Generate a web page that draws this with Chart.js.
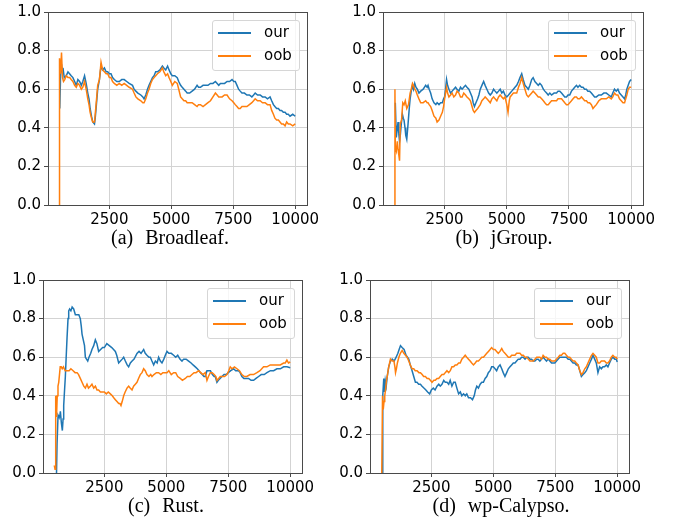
<!DOCTYPE html>
<html><head><meta charset="utf-8">
<script src="https://cdn.jsdelivr.net/npm/chart.js@4.4.1/dist/chart.umd.min.js"></script>
<style>
html,body{margin:0;padding:0;background:#fff;}
#wrap{position:relative;width:683px;height:519px;overflow:hidden;}
#wrap canvas{position:absolute;}
.legend{position:absolute;width:86px;height:49px;border:1px solid #d6d6d6;border-radius:3px;background:rgba(255,255,255,0.8);font-family:'DejaVu Sans';font-size:15px;color:#000;}
.sw{position:absolute;left:5px;width:33px;height:2px;}
.lbl{position:absolute;left:51px;white-space:nowrap;line-height:18px;height:18px;}
.cap{position:absolute;width:300px;text-align:center;font-family:'Liberation Serif';font-size:20px;line-height:20px;word-spacing:7px;color:#000;white-space:nowrap;}
</style></head>
<body><div id="wrap"></div>
<script>
const seriesNames = ['our','oob'];
const BLUE = '#1f77b4', ORANGE = '#ff7f0e';
const xTicks = [2500,5000,7500,10000];
const yTicks = [0,0.2,0.4,0.6,0.8,1.0];
const X_MIN = 25, X_MAX = 10475;
const captions = ['(a) Broadleaf.','(b) jGroup.','(c) Rust.','(d) wp-Calypso.'];

const broadleafOur = [[500,0.50],[530,0.66],[567,0.73],[600,0.69],[630,0.71],[680,0.66],[760,0.67],[830,0.69],[895,0.68],[960,0.67],[1030,0.66],[1100,0.64],[1165,0.62],[1230,0.65],[1300,0.64],[1370,0.62],[1430,0.64],[1500,0.67],[1565,0.63],[1630,0.58],[1680,0.55],[1725,0.50],[1780,0.46],[1830,0.43],[1900,0.42],[1930,0.45],[1965,0.50],[2030,0.60],[2100,0.65],[2165,0.72],[2230,0.70],[2300,0.71],[2370,0.69],[2433,0.69],[2500,0.68],[2567,0.68],[2630,0.66],[2700,0.65],[2800,0.64],[2900,0.64],[3000,0.65],[3100,0.65],[3200,0.64],[3300,0.63],[3435,0.62],[3500,0.60],[3570,0.59],[3650,0.58],[3770,0.57],[3850,0.56],[3900,0.55],[3970,0.57],[4040,0.60],[4100,0.62],[4170,0.64],[4240,0.66],[4305,0.67],[4370,0.69],[4440,0.69],[4540,0.70],[4640,0.72],[4700,0.71],[4775,0.70],[4850,0.72],[4910,0.70],[4980,0.68],[5040,0.67],[5140,0.67],[5240,0.66],[5300,0.64],[5375,0.62],[5440,0.61],[5510,0.60],[5580,0.59],[5640,0.58],[5740,0.58],[5840,0.59],[5940,0.60],[6040,0.62],[6100,0.61],[6175,0.61],[6280,0.62],[6380,0.62],[6480,0.62],[6580,0.63],[6680,0.63],[6780,0.64],[6850,0.63],[6915,0.62],[6980,0.63],[7050,0.63],[7150,0.63],[7250,0.64],[7350,0.64],[7450,0.65],[7520,0.64],[7580,0.64],[7650,0.62],[7715,0.60],[7780,0.59],[7850,0.58],[7950,0.58],[8050,0.57],[8150,0.57],[8250,0.56],[8320,0.57],[8385,0.58],[8480,0.57],[8585,0.57],[8680,0.56],[8785,0.56],[8880,0.55],[8985,0.56],[9050,0.54],[9120,0.52],[9180,0.51],[9250,0.50],[9320,0.50],[9385,0.49],[9450,0.49],[9520,0.48],[9590,0.48],[9655,0.47],[9720,0.47],[9790,0.46],[9900,0.47],[10000,0.46]];
const broadleafOob = [[480,0.00],[490,0.76],[530,0.68],[570,0.79],[610,0.66],[650,0.64],[700,0.65],[760,0.67],[830,0.66],[900,0.66],[960,0.65],[1030,0.64],[1100,0.62],[1165,0.61],[1230,0.63],[1300,0.62],[1370,0.60],[1430,0.61],[1500,0.64],[1565,0.60],[1630,0.55],[1680,0.52],[1725,0.48],[1780,0.45],[1830,0.43],[1900,0.43],[1930,0.47],[1965,0.52],[2030,0.62],[2100,0.65],[2165,0.74],[2230,0.70],[2300,0.69],[2370,0.68],[2433,0.68],[2500,0.66],[2567,0.66],[2630,0.64],[2700,0.63],[2800,0.62],[2900,0.63],[3000,0.62],[3100,0.63],[3200,0.62],[3300,0.61],[3435,0.60],[3500,0.58],[3570,0.56],[3650,0.55],[3770,0.54],[3850,0.53],[3900,0.53],[3970,0.55],[4040,0.58],[4100,0.60],[4170,0.63],[4240,0.65],[4305,0.66],[4370,0.67],[4440,0.68],[4540,0.69],[4640,0.71],[4700,0.69],[4775,0.67],[4850,0.68],[4910,0.66],[4980,0.64],[5040,0.62],[5140,0.64],[5240,0.63],[5300,0.60],[5375,0.56],[5440,0.55],[5510,0.54],[5580,0.54],[5640,0.53],[5740,0.53],[5840,0.53],[5940,0.52],[6040,0.51],[6100,0.52],[6175,0.52],[6280,0.51],[6380,0.52],[6480,0.53],[6580,0.54],[6680,0.56],[6780,0.58],[6850,0.57],[6915,0.56],[6980,0.56],[7050,0.56],[7150,0.57],[7250,0.57],[7350,0.55],[7450,0.54],[7520,0.53],[7580,0.52],[7650,0.51],[7715,0.50],[7780,0.50],[7850,0.51],[7950,0.51],[8050,0.51],[8150,0.52],[8250,0.53],[8320,0.54],[8385,0.55],[8480,0.54],[8585,0.54],[8680,0.53],[8785,0.53],[8880,0.52],[8985,0.52],[9050,0.49],[9120,0.47],[9180,0.45],[9250,0.44],[9320,0.44],[9385,0.43],[9450,0.42],[9520,0.42],[9590,0.41],[9655,0.43],[9720,0.42],[9790,0.42],[9900,0.41],[10000,0.42]];

const jgroupOur = [[520,0.53],[560,0.35],[600,0.40],[630,0.43],[660,0.37],[690,0.33],[720,0.36],[760,0.42],[805,0.47],[840,0.45],[870,0.44],[910,0.40],[940,0.36],[980,0.34],[1020,0.40],[1050,0.45],[1080,0.50],[1115,0.55],[1160,0.59],[1210,0.62],[1250,0.60],[1300,0.63],[1350,0.61],[1405,0.60],[1470,0.58],[1540,0.59],[1640,0.60],[1740,0.62],[1800,0.61],[1835,0.62],[1880,0.60],[1940,0.58],[2000,0.55],[2075,0.53],[2150,0.52],[2200,0.53],[2275,0.52],[2340,0.53],[2410,0.53],[2460,0.55],[2500,0.56],[2540,0.60],[2580,0.65],[2620,0.62],[2675,0.60],[2740,0.58],[2805,0.59],[2870,0.60],[2940,0.61],[3000,0.60],[3075,0.59],[3140,0.61],[3205,0.60],[3270,0.61],[3340,0.62],[3400,0.61],[3475,0.60],[3540,0.58],[3605,0.56],[3650,0.53],[3700,0.51],[3760,0.53],[3830,0.55],[3880,0.57],[3935,0.60],[4000,0.62],[4070,0.64],[4130,0.62],[4200,0.60],[4270,0.58],[4335,0.57],[4400,0.58],[4470,0.60],[4530,0.59],[4600,0.58],[4670,0.59],[4735,0.60],[4800,0.58],[4865,0.59],[4930,0.57],[5000,0.56],[5070,0.57],[5135,0.58],[5200,0.59],[5265,0.60],[5330,0.61],[5400,0.62],[5470,0.64],[5530,0.66],[5600,0.68],[5660,0.65],[5730,0.62],[5800,0.61],[5865,0.60],[5930,0.62],[6000,0.65],[6060,0.66],[6130,0.64],[6200,0.63],[6265,0.62],[6330,0.63],[6400,0.62],[6470,0.60],[6530,0.59],[6600,0.58],[6665,0.57],[6730,0.58],[6800,0.57],[6900,0.58],[7000,0.58],[7060,0.59],[7130,0.59],[7200,0.58],[7265,0.57],[7330,0.56],[7400,0.56],[7460,0.57],[7530,0.57],[7600,0.59],[7665,0.60],[7730,0.61],[7800,0.62],[7860,0.61],[7930,0.62],[8000,0.61],[8065,0.61],[8130,0.60],[8200,0.60],[8260,0.59],[8330,0.59],[8400,0.58],[8465,0.57],[8530,0.56],[8600,0.56],[8700,0.57],[8800,0.57],[8900,0.58],[9000,0.58],[9100,0.57],[9200,0.56],[9260,0.58],[9330,0.60],[9400,0.59],[9465,0.60],[9530,0.58],[9600,0.57],[9670,0.56],[9735,0.55],[9780,0.57],[9825,0.60],[9880,0.62],[9935,0.64],[10000,0.65]];
const jgroupOob = [[500,0.00],[505,0.60],[520,0.30],[560,0.28],[600,0.33],[630,0.29],[660,0.26],[690,0.23],[720,0.42],[770,0.44],[820,0.53],[870,0.52],[920,0.54],[980,0.50],[1050,0.52],[1115,0.58],[1160,0.60],[1210,0.63],[1250,0.62],[1300,0.60],[1350,0.59],[1405,0.57],[1470,0.55],[1540,0.53],[1640,0.53],[1740,0.54],[1800,0.53],[1835,0.53],[1880,0.52],[1940,0.51],[2000,0.49],[2075,0.46],[2150,0.45],[2200,0.43],[2275,0.44],[2340,0.46],[2410,0.48],[2460,0.51],[2500,0.55],[2540,0.58],[2580,0.61],[2620,0.58],[2675,0.56],[2740,0.57],[2805,0.58],[2870,0.56],[2940,0.57],[3000,0.59],[3075,0.58],[3140,0.56],[3205,0.56],[3270,0.58],[3340,0.57],[3400,0.56],[3475,0.55],[3540,0.54],[3605,0.51],[3650,0.49],[3700,0.48],[3760,0.49],[3830,0.50],[3880,0.51],[3935,0.52],[4000,0.54],[4070,0.55],[4130,0.56],[4200,0.55],[4270,0.54],[4335,0.53],[4400,0.55],[4470,0.56],[4530,0.55],[4600,0.54],[4670,0.56],[4735,0.57],[4800,0.56],[4865,0.55],[4930,0.56],[5000,0.52],[5050,0.48],[5100,0.54],[5135,0.56],[5200,0.57],[5265,0.58],[5330,0.58],[5400,0.58],[5470,0.61],[5530,0.63],[5600,0.66],[5660,0.63],[5730,0.60],[5800,0.57],[5865,0.56],[5930,0.57],[6000,0.58],[6060,0.59],[6130,0.58],[6200,0.57],[6265,0.56],[6330,0.56],[6400,0.55],[6470,0.54],[6530,0.53],[6600,0.52],[6665,0.52],[6730,0.53],[6800,0.54],[6900,0.54],[7000,0.54],[7060,0.55],[7130,0.55],[7200,0.55],[7265,0.54],[7330,0.53],[7400,0.52],[7460,0.52],[7530,0.53],[7600,0.54],[7665,0.55],[7730,0.56],[7800,0.56],[7860,0.55],[7930,0.55],[8000,0.56],[8065,0.55],[8130,0.54],[8200,0.54],[8260,0.53],[8330,0.53],[8400,0.52],[8465,0.50],[8530,0.51],[8600,0.52],[8700,0.54],[8800,0.55],[8900,0.55],[9000,0.55],[9100,0.56],[9200,0.55],[9260,0.56],[9330,0.58],[9400,0.57],[9465,0.57],[9530,0.55],[9600,0.54],[9670,0.53],[9735,0.53],[9780,0.55],[9825,0.57],[9880,0.60],[9935,0.61],[10000,0.61]];

const rustOur = [[570,0.00],[592,0.15],[632,0.30],[670,0.29],[700,0.29],[726,0.32],[766,0.26],[806,0.22],[835,0.28],[860,0.35],[895,0.43],[927,0.50],[960,0.60],[995,0.70],[1035,0.80],[1062,0.84],[1100,0.85],[1150,0.84],[1200,0.86],[1263,0.85],[1330,0.82],[1400,0.82],[1470,0.82],[1530,0.80],[1570,0.76],[1600,0.72],[1650,0.69],[1700,0.66],[1734,0.60],[1780,0.59],[1830,0.58],[1880,0.60],[1950,0.62],[2000,0.64],[2070,0.66],[2137,0.69],[2200,0.67],[2270,0.63],[2350,0.64],[2430,0.65],[2500,0.65],[2600,0.67],[2700,0.66],[2800,0.65],[2944,0.63],[3000,0.61],[3078,0.57],[3150,0.58],[3220,0.59],[3280,0.60],[3347,0.58],[3420,0.56],[3480,0.55],[3550,0.57],[3620,0.58],[3700,0.59],[3817,0.62],[3900,0.63],[3980,0.62],[4086,0.64],[4150,0.62],[4220,0.61],[4300,0.60],[4355,0.60],[4420,0.58],[4490,0.56],[4560,0.58],[4630,0.57],[4690,0.60],[4760,0.58],[4825,0.57],[4900,0.59],[4960,0.61],[5027,0.63],[5100,0.62],[5200,0.62],[5296,0.61],[5380,0.60],[5460,0.61],[5550,0.59],[5632,0.58],[5700,0.59],[5800,0.59],[5900,0.58],[6000,0.57],[6080,0.56],[6170,0.55],[6250,0.54],[6320,0.53],[6370,0.52],[6450,0.51],[6520,0.50],[6572,0.50],[6640,0.53],[6706,0.53],[6780,0.53],[6860,0.51],[6930,0.50],[6975,0.50],[7043,0.47],[7100,0.48],[7170,0.49],[7245,0.50],[7330,0.51],[7420,0.51],[7500,0.52],[7600,0.53],[7715,0.54],[7800,0.53],[7916,0.53],[7980,0.52],[8050,0.50],[8130,0.49],[8220,0.49],[8320,0.49],[8420,0.48],[8522,0.48],[8620,0.49],[8724,0.50],[8830,0.51],[8950,0.51],[9060,0.52],[9200,0.53],[9330,0.53],[9464,0.54],[9600,0.54],[9733,0.55],[9870,0.55],[10000,0.545]];
const rustOob = [[480,0.04],[510,0.02],[530,0.05],[545,0.40],[570,0.29],[600,0.40],[630,0.45],[660,0.47],[690,0.51],[720,0.55],[760,0.55],[800,0.54],[850,0.55],[920,0.53],[995,0.53],[1080,0.53],[1150,0.54],[1240,0.53],[1320,0.52],[1400,0.52],[1460,0.51],[1530,0.49],[1600,0.47],[1670,0.45],[1734,0.44],[1800,0.46],[1860,0.44],[1935,0.45],[2000,0.46],[2070,0.44],[2140,0.45],[2204,0.43],[2270,0.43],[2339,0.42],[2420,0.42],[2500,0.42],[2580,0.41],[2660,0.42],[2742,0.41],[2820,0.40],[2880,0.39],[2944,0.38],[3010,0.37],[3078,0.36],[3130,0.36],[3172,0.35],[3220,0.37],[3280,0.40],[3340,0.42],[3414,0.44],[3480,0.45],[3540,0.44],[3616,0.43],[3680,0.45],[3750,0.46],[3817,0.47],[3880,0.49],[3950,0.51],[4020,0.52],[4086,0.54],[4150,0.53],[4220,0.51],[4300,0.50],[4370,0.51],[4422,0.50],[4500,0.51],[4600,0.52],[4690,0.52],[4780,0.51],[4860,0.52],[4940,0.52],[5027,0.52],[5100,0.53],[5200,0.51],[5296,0.52],[5380,0.52],[5460,0.50],[5564,0.49],[5650,0.48],[5766,0.49],[5850,0.50],[5950,0.50],[6035,0.51],[6120,0.52],[6200,0.52],[6304,0.53],[6390,0.52],[6478,0.51],[6572,0.52],[6640,0.48],[6700,0.50],[6774,0.52],[6850,0.52],[6930,0.51],[7000,0.50],[7043,0.48],[7110,0.49],[7177,0.50],[7260,0.50],[7350,0.50],[7446,0.51],[7520,0.53],[7580,0.55],[7650,0.54],[7750,0.55],[7850,0.54],[7950,0.53],[8050,0.51],[8150,0.50],[8250,0.50],[8380,0.51],[8522,0.51],[8656,0.52],[8780,0.53],[8925,0.55],[9060,0.55],[9194,0.56],[9330,0.56],[9464,0.56],[9600,0.56],[9733,0.57],[9800,0.57],[9866,0.585],[9930,0.57],[10000,0.575]];

const calypsoOur = [[520,0.00],[540,0.40],[580,0.49],[600,0.42],[640,0.48],[680,0.45],[720,0.50],[780,0.55],[850,0.58],[920,0.59],[1000,0.58],[1080,0.60],[1150,0.62],[1200,0.64],[1255,0.66],[1320,0.65],[1400,0.64],[1480,0.61],[1590,0.59],[1650,0.56],[1723,0.53],[1790,0.50],[1857,0.47],[1920,0.47],[1990,0.46],[2060,0.46],[2125,0.45],[2200,0.44],[2280,0.43],[2350,0.42],[2433,0.41],[2500,0.43],[2580,0.44],[2650,0.43],[2728,0.45],[2800,0.46],[2860,0.45],[2928,0.46],[3000,0.48],[3060,0.47],[3130,0.47],[3200,0.46],[3260,0.48],[3330,0.45],[3400,0.47],[3464,0.47],[3530,0.44],[3600,0.41],[3670,0.42],[3730,0.40],[3800,0.41],[3870,0.40],[3930,0.41],[4000,0.39],[4080,0.39],[4160,0.38],[4230,0.40],[4280,0.43],[4334,0.45],[4400,0.44],[4470,0.46],[4535,0.47],[4600,0.47],[4670,0.49],[4736,0.50],[4800,0.52],[4870,0.53],[4933,0.55],[5000,0.55],[5070,0.54],[5134,0.53],[5200,0.55],[5272,0.56],[5340,0.54],[5400,0.52],[5470,0.50],[5540,0.52],[5606,0.54],[5673,0.55],[5740,0.56],[5807,0.57],[5874,0.57],[5940,0.58],[6008,0.59],[6075,0.59],[6142,0.60],[6210,0.60],[6280,0.59],[6350,0.60],[6410,0.60],[6480,0.59],[6545,0.59],[6610,0.58],[6678,0.58],[6750,0.59],[6810,0.59],[6880,0.58],[6946,0.59],[7010,0.60],[7080,0.59],[7147,0.58],[7214,0.59],[7280,0.58],[7350,0.57],[7415,0.57],[7482,0.57],[7550,0.58],[7620,0.59],[7683,0.60],[7750,0.60],[7820,0.60],[7884,0.60],[7950,0.60],[8020,0.59],[8084,0.59],[8150,0.58],[8218,0.57],[8285,0.57],[8350,0.56],[8420,0.56],[8490,0.53],[8554,0.50],[8620,0.51],[8690,0.52],[8754,0.53],[8820,0.55],[8890,0.57],[8960,0.59],[9022,0.61],[9090,0.59],[9155,0.57],[9222,0.52],[9290,0.55],[9360,0.54],[9423,0.55],[9490,0.55],[9560,0.56],[9625,0.55],[9690,0.57],[9760,0.59],[9826,0.60],[9900,0.59],[9960,0.59],[10000,0.575]];
const calypsoOob = [[500,0.00],[530,0.40],[560,0.33],[590,0.37],[620,0.40],[650,0.43],[690,0.48],[720,0.50],[780,0.55],[850,0.59],[920,0.58],[990,0.58],[1030,0.55],[1055,0.52],[1090,0.54],[1130,0.57],[1190,0.60],[1250,0.62],[1322,0.635],[1390,0.62],[1456,0.61],[1520,0.60],[1590,0.58],[1650,0.56],[1723,0.54],[1790,0.54],[1850,0.53],[1924,0.53],[2000,0.52],[2060,0.52],[2130,0.51],[2190,0.50],[2260,0.50],[2330,0.49],[2393,0.49],[2460,0.48],[2527,0.47],[2600,0.48],[2660,0.48],[2730,0.49],[2795,0.49],[2860,0.50],[2930,0.51],[3000,0.51],[3062,0.52],[3130,0.53],[3200,0.52],[3263,0.53],[3330,0.55],[3400,0.55],[3464,0.56],[3530,0.56],[3600,0.57],[3665,0.57],[3730,0.59],[3800,0.60],[3866,0.61],[3930,0.60],[4000,0.59],[4067,0.58],[4130,0.57],[4200,0.56],[4270,0.57],[4330,0.58],[4400,0.58],[4470,0.59],[4535,0.60],[4602,0.60],[4670,0.61],[4736,0.62],[4803,0.63],[4870,0.64],[4933,0.65],[5000,0.64],[5067,0.64],[5134,0.63],[5200,0.62],[5270,0.63],[5340,0.645],[5400,0.63],[5470,0.62],[5540,0.61],[5606,0.60],[5673,0.60],[5740,0.61],[5807,0.61],[5874,0.61],[5940,0.62],[6008,0.62],[6075,0.62],[6142,0.61],[6209,0.61],[6280,0.60],[6350,0.60],[6410,0.59],[6480,0.58],[6545,0.58],[6610,0.58],[6678,0.59],[6750,0.60],[6810,0.60],[6879,0.60],[6946,0.59],[7010,0.61],[7080,0.60],[7147,0.60],[7214,0.59],[7280,0.59],[7350,0.58],[7415,0.58],[7482,0.58],[7550,0.59],[7620,0.60],[7683,0.61],[7750,0.61],[7820,0.62],[7884,0.62],[7950,0.61],[8020,0.60],[8084,0.60],[8150,0.59],[8218,0.58],[8285,0.58],[8350,0.57],[8420,0.56],[8490,0.53],[8554,0.51],[8620,0.52],[8690,0.54],[8754,0.55],[8820,0.57],[8890,0.59],[8960,0.61],[9022,0.62],[9090,0.61],[9155,0.60],[9222,0.57],[9290,0.57],[9360,0.58],[9423,0.58],[9490,0.58],[9560,0.57],[9625,0.57],[9690,0.58],[9760,0.60],[9826,0.61],[9900,0.60],[9960,0.60],[10000,0.59]];

Chart.defaults.font.family = "'DejaVu Sans'";
Chart.defaults.font.size = 15;
Chart.defaults.color = '#000';

const wrap = document.getElementById('wrap');

const frame = {
  id: 'frame',
  afterDatasetsDraw(chart) {
    const a = chart.chartArea, c = chart.ctx;
    c.save();
    c.strokeStyle = '#4a4a4a';
    c.lineWidth = 1;
    c.strokeRect(Math.round(a.left) + 0.5, Math.round(a.top) + 0.5, Math.round(a.right - a.left), Math.round(a.bottom - a.top));
    c.restore();
  }
};

function toPts(arr) { return arr.map(p => ({x: p[0], y: p[1]})); }

function makePanel(our, oob, g, cap) {
  const cv = document.createElement('canvas');
  cv.width = g.w; cv.height = g.h;
  cv.style.left = g.cx + 'px'; cv.style.top = g.cy + 'px';
  cv.style.width = g.w + 'px'; cv.style.height = g.h + 'px';
  wrap.appendChild(cv);
  const gridCfg = {color: '#d3d3d3', lineWidth: 1, tickColor: '#4a4a4a', tickLength: 4, tickWidth: 1};
  new Chart(cv, {
    type: 'line',
    data: {datasets: [
      {label: seriesNames[1], data: toPts(oob), borderColor: ORANGE, backgroundColor: ORANGE, borderWidth: 1.5, pointRadius: 0, tension: 0, order: 0},
      {label: seriesNames[0], data: toPts(our), borderColor: BLUE, backgroundColor: BLUE, borderWidth: 1.5, pointRadius: 0, tension: 0, order: 1}
    ]},
    options: {
      responsive: false, animation: false, events: [],
      layout: {padding: {left: 0, top: g.T - g.cy, right: g.cx + g.w - g.R, bottom: 0}},
      plugins: {legend: {display: false}, tooltip: {enabled: false}},
      scales: {
        x: {type: 'linear', min: X_MIN, max: X_MAX,
            afterBuildTicks: s => { s.ticks = xTicks.map(v => ({value: v})); },
            afterFit: s => { s.height = g.cy + g.h - g.B; },
            ticks: {callback: v => String(v), maxRotation: 0, autoSkip: false, padding: 2, color: '#000'},
            grid: gridCfg, border: {display: false}},
        y: {min: 0, max: 1,
            afterBuildTicks: s => { s.ticks = yTicks.map(v => ({value: v})); },
            afterFit: s => { s.width = g.L - g.cx; },
            ticks: {callback: v => Number(v).toFixed(1), padding: 3, color: '#000'},
            grid: gridCfg, border: {display: false}}
      }
    },
    plugins: [frame]
  });
  const lg = document.createElement('div');
  lg.className = 'legend';
  lg.style.left = (g.R - 7 - 88) + 'px';
  lg.style.top = (g.T + 8) + 'px';
  [[seriesNames[0], BLUE, 12], [seriesNames[1], ORANGE, 35]].forEach(([name, col, cy]) => {
    const sw = document.createElement('div'); sw.className = 'sw'; sw.style.background = col; sw.style.top = (cy - 1) + 'px';
    const tx = document.createElement('div'); tx.className = 'lbl'; tx.textContent = name; tx.style.top = (cy - 10) + 'px';
    lg.appendChild(sw); lg.appendChild(tx);
  });
  wrap.appendChild(lg);
  const cd = document.createElement('div');
  cd.className = 'cap';
  cd.textContent = cap;
  cd.style.left = (g.capX - 150) + 'px';
  cd.style.top = g.capY + 'px';
  wrap.appendChild(cd);
}

makePanel(broadleafOur, broadleafOob, {cx: 0, cy: 0, w: 340, h: 250, L: 48, T: 12, R: 307, B: 205, capX: 170, capY: 226.5}, captions[0]);
makePanel(jgroupOur, jgroupOob, {cx: 335, cy: 0, w: 348, h: 250, L: 383, T: 12, R: 643, B: 205, capX: 504, capY: 226.5}, captions[1]);
makePanel(rustOur, rustOob, {cx: 0, cy: 262, w: 340, h: 257, L: 43, T: 280, R: 302, B: 473, capX: 166, capY: 494.8}, captions[2]);
makePanel(calypsoOur, calypsoOob, {cx: 325, cy: 262, w: 358, h: 257, L: 370, T: 280, R: 629, B: 473, capX: 501, capY: 494.8}, captions[3]);
</script>
</body></html>
